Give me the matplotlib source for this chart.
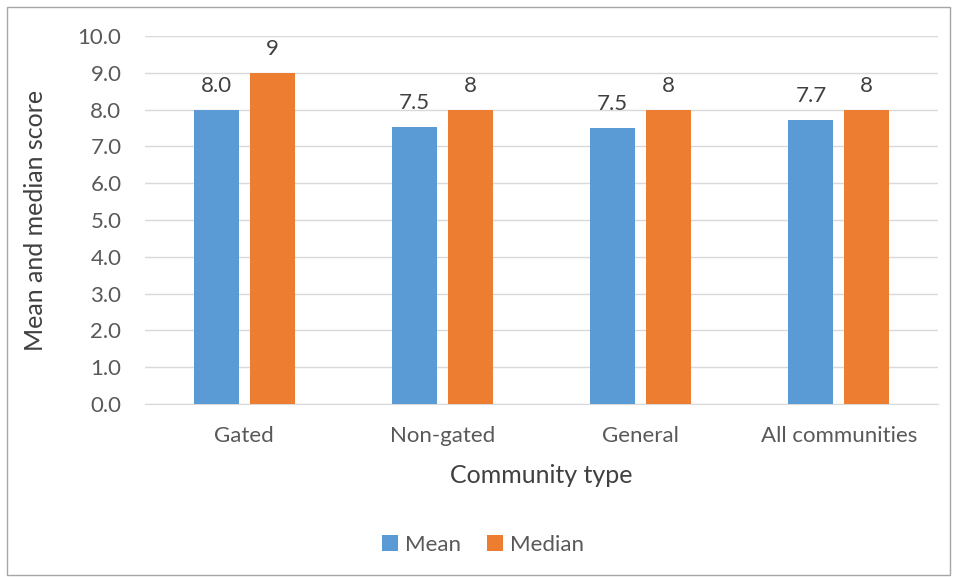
import matplotlib
matplotlib.use("Agg")
import matplotlib.pyplot as plt
import numpy as np
from matplotlib.patches import Rectangle

categories = ["Gated", "Non-gated", "General", "All communities"]
mean_vals = [7.98, 7.52, 7.50, 7.72]
median_vals = [9, 8, 8, 8]
mean_labels = ["8.0", "7.5", "7.5", "7.7"]
median_labels = ["9", "8", "8", "8"]
yticks = [0, 1, 2, 3, 4, 5, 6, 7, 8, 9, 10]

plt.rcParams['font.family'] = ['Lato', 'DejaVu Sans']

fig = plt.figure(figsize=(9.54, 5.77), dpi=100)
ax = fig.add_axes([145/954, 1-404/577, (938-145)/954, (404-36)/577])

x = np.arange(len(categories))
w = 0.227
off = 0.141
blue = "#5B9BD5"
orange = "#ED7D31"
b1 = ax.bar(x - off, mean_vals, w, color=blue, label="Mean", zorder=3)
b2 = ax.bar(x + off, median_vals, w, color=orange, label="Median", zorder=3)

for rect, lab in zip(b1, mean_labels):
    ax.text(rect.get_x() + rect.get_width()/2, rect.get_height() + 0.38, lab,
            ha="center", va="bottom", fontsize=16, color="#404040")
for rect, lab in zip(b2, median_labels):
    ax.text(rect.get_x() + rect.get_width()/2, rect.get_height() + 0.38, lab,
            ha="center", va="bottom", fontsize=16, color="#404040")

ax.set_xlim(-0.5, 3.5)
ax.set_ylim(0, 10)
ax.set_yticks(yticks)
ax.set_yticklabels([f"{v:.1f}" for v in yticks])
ax.set_xticks(x)
ax.set_xticklabels(categories)
ax.yaxis.grid(True, color="#D9D9D9", linewidth=1, zorder=0)
ax.set_axisbelow(True)
for s in ["top", "right", "left"]:
    ax.spines[s].set_visible(False)
ax.spines["bottom"].set_color("#D9D9D9")
ax.tick_params(axis="both", length=0, labelsize=16, colors="#595959")
ax.tick_params(axis="y", pad=17)
ax.tick_params(axis="x", pad=16)
ax.set_xlabel("Community type", fontsize=18, color="#404040", labelpad=13)
ax.set_ylabel("Mean and median score", fontsize=18, color="#404040", labelpad=22)

leg = fig.legend(handles=[b1, b2], labels=["Mean", "Median"], loc="center",
                 bbox_to_anchor=(483/954, 1-545/577), ncol=2, frameon=False,
                 fontsize=16, handlelength=0.7, handleheight=0.7,
                 handletextpad=0.3, columnspacing=1.2, labelcolor="#595959")

fig.patches.append(Rectangle((7/954, 2/577), (950-7)/954, (570-2)/577,
                             transform=fig.transFigure, fill=False,
                             edgecolor="#A6A6A6", linewidth=1))

fig.savefig("out.png", dpi=100)
